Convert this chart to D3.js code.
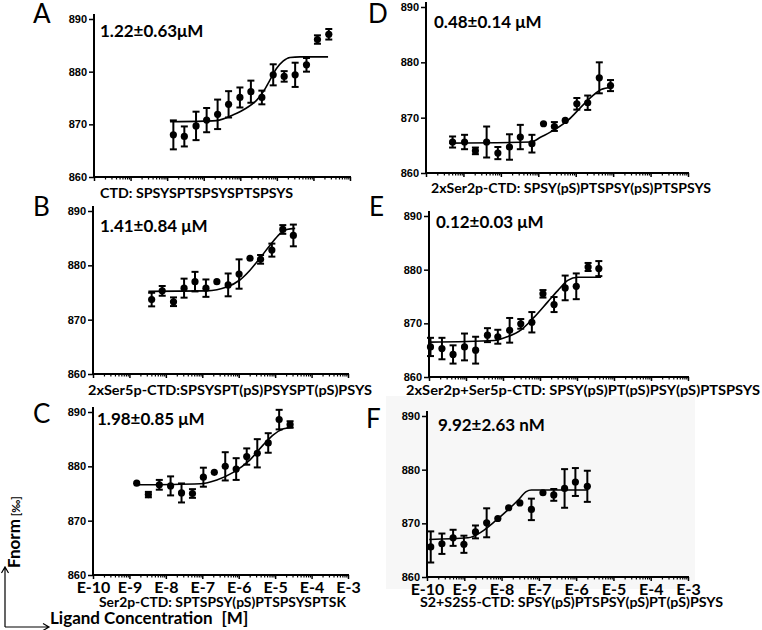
<!DOCTYPE html>
<html>
<head>
<meta charset="utf-8">
<script src="https://cdn.jsdelivr.net/npm/d3@7"></script>
<style>
  body { margin: 0; background: #fff; }
  svg { display: block; }
</style>
</head>
<body>
<svg id="chart"></svg>
<script>
// ---- data (log10 of ligand concentration in M, Fnorm in ‰) ----
const yTicks = [860, 870, 880, 890];
const decadeLabels = ['E-10', 'E-9', 'E-8', 'E-7', 'E-6', 'E-5', 'E-4', 'E-3'];

// A: CTD
const logA = [-7.83, -7.53, -7.21, -6.92, -6.62, -6.32, -6.01, -5.71, -5.41, -5.10, -4.80, -4.50, -4.19, -3.89, -3.58];
const fnormA = [868.0, 867.7, 869.7, 870.8, 871.9, 873.8, 875.1, 876.2, 875.1, 879.4, 879.1, 879.4, 881.3, 886.1, 887.1];
const errA = [2.75, 1.9, 2.7, 2.3, 2.8, 2.5, 1.9, 2.1, 1.3, 2.0, 1.0, 2.3, 1.3, 0.8, 1.0];
const fitLogA = [-7.92, -7.0, -6.65, -6.19, -5.83, -5.55, -5.37, -5.19, -5.01, -4.83, -4.64, -4.37, -3.60];
const fitA = [870.5, 870.6, 870.7, 871.8, 873.1, 874.6, 876.2, 878.4, 880.6, 882.0, 882.7, 882.8, 882.8];

// B: 2xSer5p-CTD
const logB = [-8.39, -8.10, -7.79, -7.50, -7.20, -6.90, -6.60, -6.29, -5.99, -5.69, -5.40, -5.09, -4.79, -4.50];
const fnormB = [873.7, 875.3, 873.3, 875.8, 877.0, 875.8, 877.0, 876.4, 878.4, 881.3, 881.1, 882.8, 886.6, 885.5];
const errB = [1.25, 0.9, 0.8, 1.75, 1.8, 1.6, 0, 2.1, 2.7, 0, 0.8, 1.2, 0.8, 2.0];
const fitLogB = [-8.48, -6.88, -6.33, -5.97, -5.69, -5.42, -5.14, -4.87, -4.68, -4.45];
const fitB = [875.2, 875.3, 876.0, 877.3, 879.1, 881.3, 883.7, 885.8, 886.6, 886.8];

// C: Ser2p-CTD
const logC = [-8.80, -8.48, -8.18, -7.87, -7.57, -7.27, -6.97, -6.67, -6.37, -6.07, -5.78, -5.49, -5.19, -4.89, -4.59];
const fnormC = [876.9, 874.8, 876.6, 876.4, 875.1, 875.0, 878.0, 878.9, 880.0, 879.5, 881.8, 882.4, 884.3, 888.6, 887.7];
const errC = [0, 0.5, 0.9, 1.75, 1.75, 0.8, 1.75, 0, 2.6, 2.0, 1.5, 2.6, 1.8, 1.8, 0.6];
const fitLogC = [-8.85, -7.06, -6.60, -6.15, -5.69, -5.32, -5.05, -4.77, -4.50];
const fitC = [876.6, 876.8, 877.5, 878.9, 881.2, 884.0, 885.8, 886.9, 887.2];

// D: 2xSer2p-CTD
const logD = [-9.29, -8.97, -8.68, -8.38, -8.08, -7.77, -7.48, -7.17, -6.86, -6.57, -6.28, -5.97, -5.68, -5.37, -5.07];
const fnormD = [865.6, 865.6, 864.0, 865.6, 863.6, 864.7, 866.5, 865.3, 868.9, 868.4, 869.5, 872.5, 872.7, 877.2, 875.8];
const errD = [1.0, 1.3, 0.6, 2.8, 1.1, 2.3, 2.2, 1.6, 0, 0.8, 0, 1.05, 1.3, 2.8, 1.0];
const fitLogD = [-9.38, -7.19, -6.93, -6.57, -6.21, -5.86, -5.59, -5.32, -5.05];
const fitD = [865.4, 865.6, 866.5, 867.8, 869.5, 871.9, 873.7, 875.1, 875.5];

// E: 2xSer2p+Ser5p-CTD
const logE = [-9.96, -9.65, -9.35, -9.04, -8.74, -8.42, -8.14, -7.82, -7.52, -7.22, -6.92, -6.62, -6.32, -6.02, -5.70, -5.41];
const fnormE = [865.6, 865.3, 864.2, 865.6, 865.0, 867.8, 867.5, 868.7, 869.9, 870.2, 875.5, 873.5, 876.6, 876.9, 880.5, 880.2];
const errE = [1.7, 2.0, 1.7, 2.5, 2.5, 1.3, 1.3, 2.3, 0.9, 1.9, 0.7, 1.4, 2.3, 2.4, 0.75, 1.4];
const fitLogE = [-10.0, -8.24, -7.88, -7.51, -7.15, -6.79, -6.52, -6.25, -5.98, -5.35];
const fitE = [866.5, 866.8, 867.5, 868.8, 871.2, 874.0, 876.1, 878.0, 878.6, 878.6];

// F: S2+S2S5-CTD
const logF = [-9.90, -9.60, -9.30, -9.01, -8.70, -8.40, -8.10, -7.81, -7.51, -7.20, -6.89, -6.60, -6.31, -6.02, -5.70];
const fnormF = [865.6, 866.2, 867.3, 866.1, 868.4, 870.1, 870.9, 872.9, 873.8, 872.6, 875.7, 875.3, 876.5, 877.7, 876.9];
const errF = [2.9, 1.9, 1.5, 1.6, 1.2, 2.7, 0, 0, 0, 2.0, 0, 1.1, 3.6, 2.6, 2.9];
const fitLogF = [-9.94, -8.90, -8.54, -8.19, -7.83, -7.56, -7.34, -7.20, -5.68];
const fitF = [867.0, 867.3, 868.4, 870.3, 872.5, 874.3, 875.9, 876.2, 876.2];

const letters = ['A', 'B', 'C', 'D', 'E', 'F'];
const kdLabels = ['1.22±0.63μM', '1.41±0.84 μM', '1.98±0.85 μM', '0.48±0.14 μM', '0.12±0.03 μM', '9.92±2.63 nM'];
const peptides = [
  'CTD: SPSYSPTSPSYSPTSPSYS',
  '2xSer5p-CTD:SPSYSPT(pS)PSYSPT(pS)PSYS',
  'Ser2p-CTD: SPTSPSY(pS)PTSPSYSPTSK',
  '2xSer2p-CTD: SPSY(pS)PTSPSY(pS)PTSPSYS',
  '2xSer2p+Ser5p-CTD: SPSY(pS)PT(pS)PSY(pS)PTSPSYS',
  'S2+S2S5-CTD: SPSY(pS)PTSPSY(pS)PT(pS)PSYS'
];

// ---- layout ----
const W = 762, H = 630;
const boldFont = 'Lato, "Open Sans", sans-serif';
const tickFont = '"Liberation Sans", Arial, sans-serif';

const svg = d3.select('#chart').attr('width', W).attr('height', H);

// faint grey backdrop behind panel F in the original
svg.append('rect')
  .attr('x', 386).attr('y', 396).attr('width', 309).attr('height', 193)
  .attr('fill', '#f7f7f7');

const panels = [
  {x0: 94, x1: 350, yTop: 19, yBot: 177, lx: 33, ly: 23, kx: 100, ky: 37, px: 100, py: 198, pw: 193, ticks: false,
   log: logA, val: fnormA, err: errA, fitLog: fitLogA, fit: fitA},
  {x0: 93, x1: 348, yTop: 211, yBot: 374, lx: 33, ly: 216, kx: 100, ky: 232, px: 88, py: 395, pw: 284, ticks: false,
   log: logB, val: fnormB, err: errB, fitLog: fitLogB, fit: fitB},
  {x0: 93, x1: 348, yTop: 412, yBot: 575, lx: 33, ly: 423, kx: 97, ky: 425, px: 99, py: 607, pw: 247, ticks: true,
   log: logC, val: fnormC, err: errC, fitLog: fitLogC, fit: fitC},
  {x0: 426, x1: 688, yTop: 7, yBot: 173, lx: 368, ly: 23, kx: 434, ky: 28, px: 431, py: 193, pw: 280, ticks: false,
   log: logD, val: fnormD, err: errD, fitLog: fitLogD, fit: fitD},
  {x0: 429, x1: 688, yTop: 216, yBot: 377, lx: 369, ly: 216, kx: 436, ky: 228, px: 406, py: 395, pw: 354, ticks: false,
   log: logE, val: fnormE, err: errE, fitLog: fitLogE, fit: fitE},
  {x0: 427, x1: 688, yTop: 416, yBot: 577, lx: 366, ly: 428, kx: 438, ky: 431, px: 420, py: 607, pw: 303, ticks: true,
   log: logF, val: fnormF, err: errF, fitLog: fitLogF, fit: fitF}
];

function isDecade(d) {
  const l = Math.log10(d);
  return Math.abs(l - Math.round(l)) < 1e-6;
}

panels.forEach((p, i) => {
  const x = d3.scaleLog().domain([1e-10, 1e-3]).range([p.x0, p.x1]);
  const y = d3.scaleLinear().domain([860, 890]).range([p.yBot, p.yTop]);
  const g = svg.append('g').classed('panel', true);

  // y axis
  const yAxis = d3.axisLeft(y).tickValues(yTicks).tickSize(5).tickSizeOuter(0).tickPadding(2);
  const yg = g.append('g').attr('transform', `translate(${p.x0},0)`).call(yAxis);
  yg.select('.domain').remove();
  yg.selectAll('.tick line').attr('stroke', '#000').attr('stroke-width', 1.5);
  yg.selectAll('.tick text')
    .attr('font-family', tickFont).attr('font-weight', 'bold').attr('font-size', 11).attr('fill', '#000');
  g.append('line')
    .attr('x1', p.x0).attr('x2', p.x0).attr('y1', p.yTop - 5).attr('y2', p.yBot + 1)
    .attr('stroke', '#000').attr('stroke-width', 2);

  // x axis: minor then major ticks
  const allTicks = x.ticks();
  const minor = allTicks.filter(d => !isDecade(d));
  const major = allTicks.filter(isDecade);
  const minorAxis = d3.axisBottom(x).tickValues(minor).tickSize(2.5).tickFormat('').tickSizeOuter(0);
  const mg = g.append('g').attr('transform', `translate(0,${p.yBot})`).call(minorAxis);
  mg.select('.domain').remove();
  mg.selectAll('.tick line').attr('stroke', '#000').attr('stroke-width', 1.2);

  const majorAxis = d3.axisBottom(x).tickValues(major).tickSize(4).tickSizeOuter(0)
    .tickFormat((d, j) => p.ticks ? decadeLabels[j] : '');
  const xg = g.append('g').attr('transform', `translate(0,${p.yBot})`).call(majorAxis);
  xg.select('.domain').remove();
  xg.selectAll('.tick line').attr('stroke', '#000').attr('stroke-width', 1.5);
  xg.selectAll('.tick text')
    .attr('y', 18).attr('dy', 0)
    .attr('font-family', boldFont).attr('font-weight', 'bold').attr('font-size', 16).attr('fill', '#000');
  g.append('line')
    .attr('x1', p.x0 - 1).attr('x2', p.x1 + 1).attr('y1', p.yBot).attr('y2', p.yBot)
    .attr('stroke', '#000').attr('stroke-width', 2);

  // fitted curve
  const fitPts = p.fitLog.map((l, j) => [Math.pow(10, l), p.fit[j]]);
  const line = d3.line().x(d => x(d[0])).y(d => y(d[1])).curve(d3.curveMonotoneX);
  g.append('path')
    .attr('d', line(fitPts))
    .attr('fill', 'none').attr('stroke', '#000').attr('stroke-width', 1.6);

  // data points with error bars
  const pts = p.log.map((l, j) => ({c: Math.pow(10, l), v: p.val[j], e: p.err[j]}));
  const eg = g.append('g');
  const bars = pts.filter(d => d.e > 0);
  eg.selectAll('line.bar').data(bars).join('line').classed('bar', true)
    .attr('x1', d => x(d.c)).attr('x2', d => x(d.c))
    .attr('y1', d => y(d.v + d.e)).attr('y2', d => y(d.v - d.e))
    .attr('stroke', '#000').attr('stroke-width', 2);
  eg.selectAll('line.capTop').data(bars).join('line').classed('capTop', true)
    .attr('x1', d => x(d.c) - 3.5).attr('x2', d => x(d.c) + 3.5)
    .attr('y1', d => y(d.v + d.e)).attr('y2', d => y(d.v + d.e))
    .attr('stroke', '#000').attr('stroke-width', 2);
  eg.selectAll('line.capBot').data(bars).join('line').classed('capBot', true)
    .attr('x1', d => x(d.c) - 3.5).attr('x2', d => x(d.c) + 3.5)
    .attr('y1', d => y(d.v - d.e)).attr('y2', d => y(d.v - d.e))
    .attr('stroke', '#000').attr('stroke-width', 2);
  eg.selectAll('circle').data(pts).join('circle')
    .attr('cx', d => x(d.c)).attr('cy', d => y(d.v)).attr('r', 3.6)
    .attr('fill', '#000');

  // texts
  g.append('text').attr('x', p.lx).attr('y', p.ly)
    .attr('font-family', boldFont).attr('font-size', 26).attr('fill', '#000')
    .text(letters[i]);
  g.append('text').attr('x', p.kx).attr('y', p.ky)
    .attr('font-family', boldFont).attr('font-weight', 'bold').attr('font-size', 17).attr('fill', '#000')
    .text(kdLabels[i]);
  g.append('text').attr('x', p.px).attr('y', p.py)
    .attr('textLength', p.pw).attr('lengthAdjust', 'spacingAndGlyphs')
    .attr('font-family', boldFont).attr('font-weight', 'bold').attr('font-size', 14).attr('fill', '#000')
    .text(peptides[i]);
});

// shared axis titles with corner arrows
const ylab = svg.append('text')
  .attr('transform', 'translate(20,568) rotate(-90)')
  .attr('font-family', boldFont).attr('font-weight', 'bold').attr('font-size', 17).attr('fill', '#000');
ylab.append('tspan').text('Fnorm');
ylab.append('tspan').attr('dx', 3).attr('font-size', 11).text('[‰]');

const xlab = svg.append('text').attr('x', 50).attr('y', 624)
  .attr('font-family', boldFont).attr('font-weight', 'bold').attr('font-size', 17).attr('fill', '#000');
xlab.append('tspan').text('Ligand Concentration');
xlab.append('tspan').attr('dx', 9).text('[M]');

svg.append('path')
  .attr('d', 'M5,627 V568 M1.5,573 L5,567 L8.5,573 M5,627 H48 M43,623.5 L49,627 L43,630.5')
  .attr('fill', 'none').attr('stroke', '#000').attr('stroke-width', 1.2);
</script>
</body>
</html>
